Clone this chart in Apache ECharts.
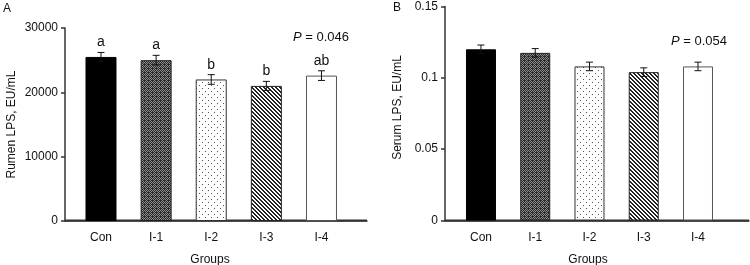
<!DOCTYPE html>
<html>
<head>
<meta charset="utf-8">
<script src="https://cdn.jsdelivr.net/npm/echarts@6/dist/echarts.min.js"></script>
<style>
html, body { margin: 0; padding: 0; background: #fff; }
#chart { width: 750px; height: 265px; }
</style>
</head>
<body>
<div id="chart"></div>
<script>
// data
var groups = ['Con', 'I-1', 'I-2', 'I-3', 'I-4'];
var rumenLps = [25500, 25000, 22000, 21000, 22600];
var rumenSem = [700, 750, 750, 700, 750];
var rumenLetters = ['a', 'a', 'b', 'b', 'ab'];
var serumLps = [0.120, 0.1175, 0.108, 0.104, 0.108];
var serumSem = [0.003, 0.003, 0.003, 0.003, 0.003];
var pValues = [0.046, 0.054];
var rumenMax = 30000, rumenStep = 10000;
var serumMax = 0.15, serumStep = 0.05;

var font = '"Liberation Sans", Arial, sans-serif';
var ink = '#111';
var axisColor = '#333';

// little canvases used as bar fills
function makePattern(w, h, bg, fg, test) {
    var c = document.createElement('canvas');
    c.width = w; c.height = h;
    var ctx = c.getContext('2d');
    ctx.fillStyle = bg;
    ctx.fillRect(0, 0, w, h);
    ctx.fillStyle = fg;
    for (var y = 0; y < h; y++) {
        for (var x = 0; x < w; x++) {
            if (test(x, y)) ctx.fillRect(x, y, 1, 1);
        }
    }
    return { image: c, repeat: 'repeat' };
}

var fills = [
    '#000',
    makePattern(4, 4, '#2a2a2a', '#8a8a8a', function (x, y) { return (x + y) % 2 === 0 && (x % 4 !== 0 || y % 4 !== 0); }),
    makePattern(6, 6, '#fff', '#555', function (x, y) { return (x === 1 && y === 1) || (x === 4 && y === 4); }),
    makePattern(4, 4, '#fff', '#222', function (x, y) { var d = ((x - y) % 4 + 4) % 4; return d === 0 || d === 1; }),
    '#fff'
];
var borders = ['#000', '#222', '#333', '#222', '#555'];

function barData(vals) {
    return vals.map(function (v, i) {
        return {
            value: [i, v],
            itemStyle: { color: fills[i], borderColor: borders[i], borderWidth: 1 }
        };
    });
}

function errData(vals, sems) {
    return vals.map(function (v, i) { return [i, v, sems[i]]; });
}

function errRender(letters) {
    return function (params, api) {
        var i = params.dataIndex;
        var x = api.value(0), v = api.value(1), e = api.value(2);
        var top = api.coord([x, v + e]);
        var bot = api.coord([x, v - e]);
        var cw = 3.5;
        var st = { stroke: ink, lineWidth: 1 };
        var children = [
            { type: 'line', shape: { x1: top[0], y1: top[1], x2: bot[0], y2: bot[1] }, style: st },
            { type: 'line', shape: { x1: top[0] - cw, y1: top[1], x2: top[0] + cw, y2: top[1] }, style: st },
            { type: 'line', shape: { x1: bot[0] - cw, y1: bot[1], x2: bot[0] + cw, y2: bot[1] }, style: st }
        ];
        if (letters) {
            children.push({
                type: 'text',
                x: top[0], y: top[1] - 3,
                style: { text: letters[i], align: 'center', verticalAlign: 'bottom', font: '14px ' + font, fill: ink }
            });
        }
        return { type: 'group', children: children };
    };
}

function xAxisFor(gridIndex, min, max, namePad) {
    return {
        type: 'value',
        gridIndex: gridIndex,
        position: 'bottom',
        min: min,
        max: max,
        name: 'Groups',
        nameLocation: 'middle',
        nameGap: 33,
        nameTextStyle: { fontFamily: font, fontSize: 12, color: ink, padding: [0, namePad, 0, 0] },
        splitLine: { show: false },
        axisLine: { show: true, onZero: false, lineStyle: { color: axisColor, width: 1.5 } },
        axisTick: { show: false },
        axisLabel: {
            customValues: groups.map(function (g, i) { return i; }),
            formatter: function (v) { return groups[Math.round(v)]; },
            margin: 11,
            fontFamily: font, fontSize: 12, color: ink
        }
    };
}

function yAxisFor(gridIndex, max, step, name, nameGap, namePad) {
    return {
        type: 'value',
        gridIndex: gridIndex,
        position: 'left',
        min: 0,
        max: max,
        interval: step,
        name: name,
        nameLocation: 'middle',
        nameGap: nameGap,
        nameTextStyle: { fontFamily: font, fontSize: 12, color: ink, padding: namePad },
        splitLine: { show: false },
        axisLine: { show: true, onZero: false, lineStyle: { color: axisColor, width: 1.5 } },
        axisTick: { show: true, length: 4, lineStyle: { color: axisColor, width: 1.5 } },
        axisLabel: {
            margin: 7, fontFamily: font, fontSize: 12, color: ink,
            formatter: function (v) { return String(v); }
        }
    };
}

function pTitle(p, left, top) {
    return {
        text: '{i|P} = ' + p.toFixed(3),
        left: left, top: top,
        padding: 0,
        textStyle: {
            fontFamily: font, fontSize: 13, fontWeight: 'normal', color: ink,
            rich: { i: { fontFamily: font, fontSize: 13, fontStyle: 'italic', color: ink } }
        }
    };
}

function panelTitle(t, left, top) {
    return {
        text: t, left: left, top: top, padding: 0,
        textStyle: { fontFamily: font, fontSize: 12, fontWeight: 'normal', color: ink }
    };
}

var chart = echarts.init(document.getElementById('chart'));
var xRanges = [[-0.653, 4.826], [-0.663, 4.94]];
var option = {
    animation: false,
    backgroundColor: '#fff',
    title: [
        panelTitle('A', 3, 3),
        panelTitle('B', 393, 2),
        pTitle(pValues[0], 293, 31),
        pTitle(pValues[1], 671, 35)
    ],
    grid: [
        { left: 65, top: 28, width: 302, height: 193, outerBoundsMode: 'none' },
        { left: 445, top: 6.5, width: 304, height: 214, outerBoundsMode: 'none' }
    ],
    xAxis: [
        xAxisFor(0, xRanges[0][0], xRanges[0][1], 12),
        xAxisFor(1, xRanges[1][0], xRanges[1][1], 18)
    ],
    yAxis: [
        yAxisFor(0, rumenMax, rumenStep, 'Rumen LPS, EU/mL', 47, [0, 0, 0, 0]),
        yAxisFor(1, serumMax, serumStep, 'Serum LPS, EU/mL', 41, [0, 0, 0, 12])
    ],
    series: [
        { type: 'bar', xAxisIndex: 0, yAxisIndex: 0, barWidth: 31, data: barData(rumenLps) },
        { type: 'custom', xAxisIndex: 0, yAxisIndex: 0, renderItem: errRender(rumenLetters),
          encode: { x: 0, y: 1 }, data: errData(rumenLps, rumenSem), z: 5 },
        { type: 'bar', xAxisIndex: 1, yAxisIndex: 1, barWidth: 30, data: barData(serumLps) },
        { type: 'custom', xAxisIndex: 1, yAxisIndex: 1, renderItem: errRender(null),
          encode: { x: 0, y: 1 }, data: errData(serumLps, serumSem), z: 5 }
    ]
};
chart.setOption(option);

// bottom axis lines on their own layer, placed from the axes themselves
function drawBaseLines() {
    var lines = xRanges.map(function (r, g) {
        var a = chart.convertToPixel({ xAxisIndex: g, yAxisIndex: g }, [r[0], 0]);
        var b = chart.convertToPixel({ xAxisIndex: g, yAxisIndex: g }, [r[1], 0]);
        var y = Math.round(a[1]) - 0.5;
        return {
            type: 'line', silent: true,
            shape: { x1: a[0], y1: y, x2: b[0], y2: y },
            style: { stroke: axisColor, lineWidth: 2 }
        };
    });
    chart.setOption({ graphic: { zlevel: 1, z: 100, elements: lines } });
}
drawBaseLines();
window.addEventListener('resize', function () { chart.resize(); drawBaseLines(); });
</script>
</body>
</html>
